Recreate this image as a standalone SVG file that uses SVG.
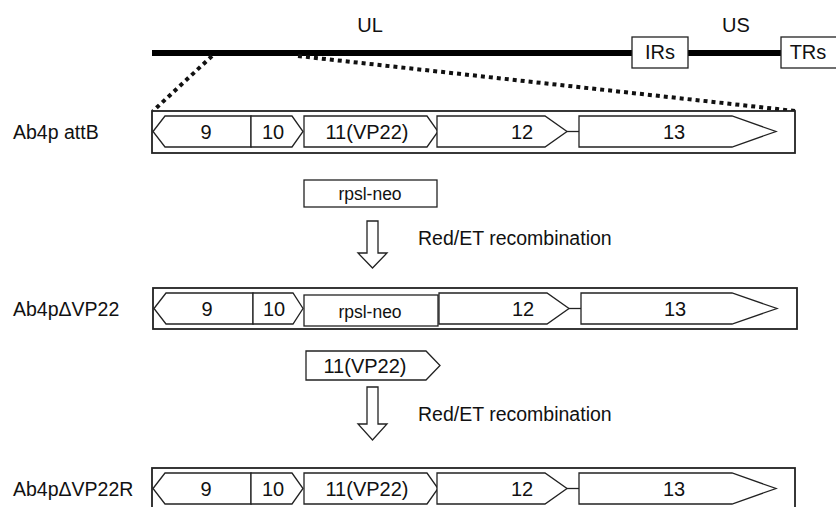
<svg xmlns="http://www.w3.org/2000/svg" width="836" height="507" viewBox="0 0 836 507">
<style>
.g{fill:#fff;stroke:#222;stroke-width:1.3;stroke-linejoin:miter}
.o{fill:#fff;stroke:#222;stroke-width:1.8}
.n{font-family:"Liberation Sans",Arial,sans-serif;font-size:20px;fill:#111;text-anchor:middle}
.l{font-family:"Liberation Sans",Arial,sans-serif;font-size:19.5px;fill:#111}
.s{font-family:"Liberation Sans",Arial,sans-serif;font-size:17.5px;fill:#111;text-anchor:middle}
.c{stroke:#222;stroke-width:1.3;fill:none}
.d{stroke:#111;stroke-width:4;stroke-dasharray:4 4;fill:none}
</style>
<g id="genome">
<line x1="152" y1="53" x2="836" y2="53" stroke="#000" stroke-width="6"/>
<text class="n" x="370" y="32" font-size="19">UL</text>
<text class="n" x="736" y="32" font-size="19">US</text>
<g id="IRs"><rect class="g" x="632" y="37" width="56" height="31"/><text class="n" x="660" y="59" font-size="16">IRs</text></g>
<g id="TRs"><rect class="g" x="781" y="37" width="60" height="31"/><text class="n" x="808" y="59" font-size="16">TRs</text></g>
</g>
<g id="connectors">
<line class="d" x1="212" y1="56" x2="153" y2="111"/>
<line class="d" x1="298" y1="56" x2="795" y2="111"/>
<polygon class="g" points="367,221 378,221 378,253 387,253 372.5,268 358,253 367,253"/>
<polygon class="g" points="367,387 378,387 378,424 387,424 372.5,440 358,424 367,424"/>
</g>
<g id="row1">
<text class="l" x="13" y="139">Ab4p attB</text>
<rect class="o" x="152" y="111" width="643" height="42"/>
<polygon class="g" points="153,131.5 165,116 251,116 251,147 165,147"/>
<polygon class="g" points="251,116 292,116 303,131.5 292,147 251,147"/>
<polygon class="g" points="304,116 427,116 438,131.5 427,147 304,147"/>
<polygon class="g" points="437,116 545,116 567,131.5 545,147 437,147"/>
<line class="c" x1="567" y1="131.5" x2="579" y2="131.5"/>
<polygon class="g" points="579,116 732,116 776,131.5 732,147 579,147"/>
<text class="n" x="206" y="139">9</text>
<text class="n" x="273" y="139">10</text>
<text class="n" x="367" y="139">11(VP22)</text>
<text class="n" x="522" y="139">12</text>
<text class="n" x="674" y="139">13</text>
</g>
<g id="rpsl-neo">
<rect class="g" x="304" y="180" width="133" height="27"/>
<text class="s" x="370" y="199.5">rpsl-neo</text>
</g>
<text class="l" x="418" y="245" font-size="20">Red/ET recombination</text>
<g id="row2">
<text class="l" x="13" y="316">Ab4pΔVP22</text>
<rect class="o" x="153" y="288" width="644" height="41"/>
<polygon class="g" points="154,308.5 166,293 253,293 253,324 166,324"/>
<polygon class="g" points="253,293 293,293 303,308.5 293,324 253,324"/>
<rect class="g" x="304" y="295" width="134" height="31"/>
<polygon class="g" points="439,293 547,293 569,308.5 547,324 439,324"/>
<line class="c" x1="569" y1="308.5" x2="581" y2="308.5"/>
<polygon class="g" points="581,293 732,293 777,308.5 732,324 581,324"/>
<text class="n" x="207" y="316">9</text>
<text class="n" x="274" y="316">10</text>
<text class="s" x="370" y="317.5">rpsl-neo</text>
<text class="n" x="523" y="316">12</text>
<text class="n" x="675" y="316">13</text>
</g>
<g id="vp22">
<polygon class="g" points="306,351 426,351 440,365.5 426,380 306,380"/>
<text class="n" x="365" y="372.5">11(VP22)</text>
</g>
<text class="l" x="418" y="421" font-size="20">Red/ET recombination</text>
<g id="row3">
<text class="l" x="13" y="496">Ab4pΔVP22R</text>
<rect class="o" x="152" y="468" width="643" height="42"/>
<polygon class="g" points="153,488.5 165,473 251,473 251,504 165,504"/>
<polygon class="g" points="251,473 292,473 303,488.5 292,504 251,504"/>
<polygon class="g" points="304,473 427,473 438,488.5 427,504 304,504"/>
<polygon class="g" points="437,473 545,473 567,488.5 545,504 437,504"/>
<line class="c" x1="567" y1="488.5" x2="579" y2="488.5"/>
<polygon class="g" points="579,473 732,473 776,488.5 732,504 579,504"/>
<text class="n" x="206" y="496">9</text>
<text class="n" x="273" y="496">10</text>
<text class="n" x="367" y="496">11(VP22)</text>
<text class="n" x="522" y="496">12</text>
<text class="n" x="674" y="496">13</text>
</g>
</svg>
